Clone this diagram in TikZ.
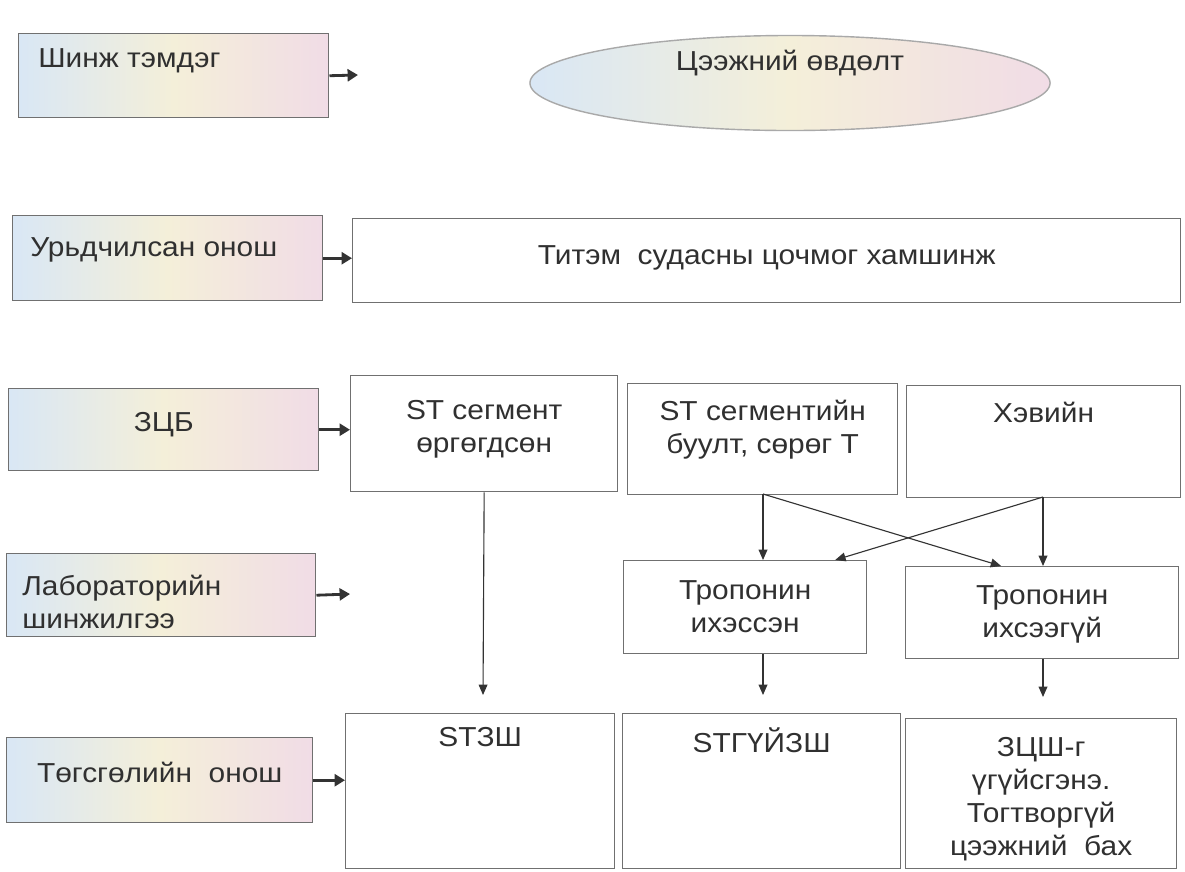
\documentclass[tikz,border=0pt]{standalone}
\usepackage{fontspec}
\setmainfont{Liberation Sans}[FakeStretch=1.09]
\usetikzlibrary{positioning, shapes.geometric, arrows.meta, calc}
\definecolor{dxtext}{HTML}{303030}
\definecolor{dxline}{HTML}{707070}
\definecolor{dxarrow}{HTML}{333333}
\definecolor{dxpink}{HTML}{F1DCE6}
\definecolor{dxblue}{HTML}{D9E7F5}
\definecolor{dxcream}{HTML}{F4EFD9}

\begin{document}
\begin{tikzpicture}[x=0.025cm, y=-0.025cm,
    every node/.style={font=\fontsize{19.5}{23.5}\selectfont, text=dxtext},
    stage/.style={draw=dxline, line width=1pt, left color=dxblue, right color=dxpink, middle color=dxcream, anchor=north west, inner sep=0pt},
    cell/.style={draw=dxline, line width=0.9pt, fill=white, anchor=north west, inner sep=0pt},
    txt/.style={anchor=north, align=center, inner sep=0pt},
    ltxt/.style={anchor=north west, align=left, inner sep=0pt},
    lead/.style={-{Triangle[length=2.6mm,width=3mm]}, line width=2pt, dxarrow},
    flow/.style={-{Triangle[length=2.6mm,width=2.2mm]}, line width=0.8pt, dxarrow}]
  \useasboundingbox (0,0) rectangle (1185,871);

  % left column
  \node[stage, minimum width=7.75cm, minimum height=2.1cm, label={[ltxt, xshift=0.5cm, yshift=-0.375cm]north west:Шинж тэмдэг}] (sign) at (18,33) {};
  \node[stage, minimum width=7.75cm, minimum height=2.125cm, label={[ltxt, xshift=0.45cm, yshift=-0.55cm]north west:Урьдчилсан онош}] (prelim) at (12,215) {};
  \node[stage, minimum width=7.75cm, minimum height=2.05cm, label={[txt, yshift=-0.6cm]north:ЗЦБ}] (ecg) at (8,388) {};
  \node[stage, minimum width=7.725cm, minimum height=2.075cm, label={[ltxt, xshift=0.4cm, yshift=-0.55cm]north west:Лабораторийн\\шинжилгээ}] (lab) at (6,553) {};
  \node[stage, minimum width=7.65cm, minimum height=2.125cm, label={[txt, yshift=-0.625cm]north:Төгсгөлийн\ \ онош}] (final) at (6,737) {};

  % right side
  \node[ellipse, draw=dxline!60, line width=1pt, left color=dxblue, right color=dxpink, middle color=dxcream, minimum width=13cm, minimum height=2.375cm, label={[txt, yshift=-0.375cm]north:Цээжний өвдөлт}] (pain) at (790,83) {};
  \node[cell, minimum width=20.7cm, minimum height=2.1cm, label={[txt, yshift=-0.675cm]north:Титэм\ \ судасны цочмог хамшинж}] (acs) at (352,218) {};

  \node[cell, minimum width=6.675cm, minimum height=2.9cm, label={[txt, yshift=-0.625cm]north:ST сегмент\\өргөгдсөн}] (stup) at (350,375) {};
  \node[cell, minimum width=6.75cm, minimum height=2.775cm, label={[txt, yshift=-0.425cm]north:ST сегментийн\\буулт, сөрөг T}] (stdown) at (627,383) {};
  \node[cell, minimum width=6.85cm, minimum height=2.8cm, label={[txt, yshift=-0.425cm]north:Хэвийн}] (normal) at (906,385) {};

  \node[cell, minimum width=6.075cm, minimum height=2.325cm, label={[txt, yshift=-0.5cm]north:Тропонин\\ихэссэн}] (tropup) at (623,560) {};
  \node[cell, minimum width=6.825cm, minimum height=2.3cm, label={[txt, yshift=-0.475cm]north:Тропонин\\ихсээгүй}] (tropno) at (905,566) {};

  \node[cell, minimum width=6.725cm, minimum height=3.875cm, label={[txt, yshift=-0.35cm]north:STЗШ}] (stemi) at (345,713) {};
  \node[cell, minimum width=6.95cm, minimum height=3.875cm, label={[txt, yshift=-0.35cm]north:STГҮЙЗШ}] (nstemi) at (622,713) {};
  \node[cell, minimum width=6.775cm, minimum height=3.75cm, label={[txt, yshift=-0.475cm]north:ЗЦШ-г\\үгүйсгэнэ.\\Тогтворгүй\\цээжний\ \ бах}] (noacs) at (905,718) {};

  % free arrow ends
  \coordinate (signend) at (358,75);
  \coordinate (labend) at (350,594);
  \coordinate (stemiend) at (483,695);
  \coordinate (nstemiend) at (763,695);
  \coordinate (noacsend) at (1043,697);
  \coordinate (splitA) at (763,494);
  \coordinate (splitB) at (1043,497);

  % stage arrows
  \draw[lead] (sign.east) -- (signend);
  \draw[lead] (prelim.east) -- (prelim.east -| acs.west);
  \draw[lead] (ecg.east) -- (ecg.east -| stup.west);
  \draw[lead] (lab.east) -- (labend);
  \draw[lead] (final.east) -- (final.east -| stemi.west);

  % flow
  \draw[flow] (stup.south) -- (stemiend);
  \draw[flow] (splitA) -- (splitA |- tropup.north);
  \draw[flow] (splitA) -- ([xshift=-1.025cm]tropno.north);
  \draw[flow] (splitB) -- (splitB |- tropno.north);
  \draw[flow] (splitB) -- ([xshift=2.25cm]tropup.north);
  \draw[flow] (splitA |- tropup.south) -- (nstemiend);
  \draw[flow] (splitB |- tropno.south) -- (noacsend);
\end{tikzpicture}
\end{document}
